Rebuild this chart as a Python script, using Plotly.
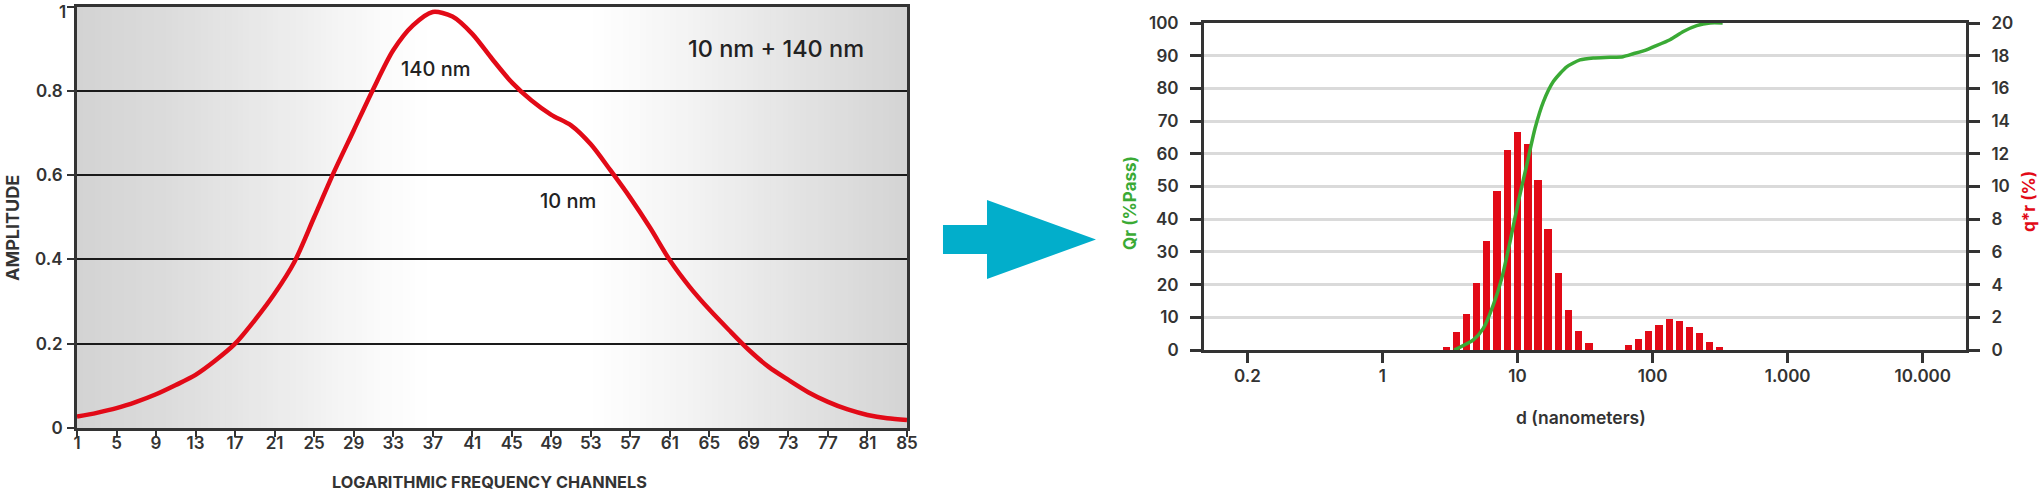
import numpy as np
import plotly.graph_objects as go

W, H = 2040, 493

# ---------------- data: left chart ----------------
channels = [1, 3, 5, 7, 9, 11, 13, 15, 17, 19, 21, 23, 25, 27, 29, 31, 33, 35, 37, 39, 41,
            43, 45, 47, 49, 51, 53, 55, 57, 59, 61, 63, 65, 67, 69, 71, 73, 75, 77, 79, 81, 83, 85]
amplitude = [0.027, 0.036, 0.047, 0.062, 0.080, 0.102, 0.126, 0.160, 0.200, 0.256, 0.319, 0.394,
             0.500, 0.607, 0.706, 0.805, 0.896, 0.955, 0.987, 0.976, 0.935,
             0.876, 0.820, 0.777, 0.743, 0.718, 0.673, 0.611, 0.546, 0.475, 0.398, 0.335,
             0.281, 0.232, 0.185, 0.145, 0.114, 0.085, 0.062, 0.044, 0.031, 0.023, 0.019]
channel_ticks = list(range(1, 86, 4))
amp_ticks = [0, 0.2, 0.4, 0.6, 0.8, 1]
amp_ticktext = ["0", "0.2", "0.4", "0.6", "0.8", "1"]

# ---------------- data: right chart ----------------
bar_d_nm = [2.97, 3.53, 4.18, 4.99, 5.91, 7.05, 8.41, 10.03, 11.93, 14.19, 16.83, 20.07, 23.78, 28.38, 33.85,
            66.6, 78.9, 93.6, 111.3, 132.7, 157.8, 188.3, 223.2, 264.8, 314.0]
bar_qr = [0.2, 1.08, 2.2, 4.08, 6.69, 9.72, 12.21, 13.35, 12.58, 10.4, 7.42, 4.69, 2.43, 1.14, 0.41,
          0.3, 0.65, 1.16, 1.53, 1.9, 1.8, 1.39, 1.02, 0.51, 0.2]
cum_d_nm = [3.4, 4.71, 5.58, 6.62, 7.64, 8.80, 10.14, 11.70, 13.48, 15.53, 18.41, 23.13, 29.0, 36.4,
            48.4, 60.4, 72.0, 90.0, 101.3, 134.6, 168.9, 212.3, 266.3, 330.0]
cum_pass = [0, 3.1, 6.6, 13.8, 21.9, 33.1, 45.4, 56.6, 67.8, 75.9, 82.1, 86.6, 88.7, 89.3,
            89.5, 89.7, 90.6, 91.8, 92.7, 94.9, 97.4, 99.2, 100, 100]
d_tickvals = [0.1, 1, 10, 100, 1000, 10000]
d_ticktext = ["0.2", "1", "10", "100", "1.000", "10.000"]
pass_ticks = list(range(0, 101, 10))
qr_ticks = list(range(0, 21, 2))

RED = "#e20a17"
GREEN = "#3aaa35"
DARK = "#333333"
FONT = "Inter"

def px(x):
    return x / W

def py(y):
    return 1 - y / H

fig = go.Figure()

# left curve
fig.add_trace(go.Scatter(x=channels, y=amplitude, mode="lines",
                         line=dict(color=RED, width=4.5, shape="spline", smoothing=0.8),
                         xaxis="x", yaxis="y", hoverinfo="skip", showlegend=False))

# bars on log axis: compute linear centre / width so bars are symmetric in log space
hw = 0.0271
logc = np.log10(np.array(bar_d_nm))
left = 10 ** (logc - hw)
right = 10 ** (logc + hw)
fig.add_trace(go.Bar(x=(left + right) / 2, y=bar_qr, width=right - left,
                     marker=dict(color=RED, line=dict(width=0)),
                     xaxis="x2", yaxis="y2", hoverinfo="skip", showlegend=False))

fig.add_trace(go.Scatter(x=cum_d_nm, y=cum_pass, mode="lines",
                         line=dict(color=GREEN, width=3.5, shape="spline", smoothing=0.6),
                         xaxis="x2", yaxis="y3", hoverinfo="skip", showlegend=False))

tickfont = dict(family=FONT, size=17, color=DARK, weight=600)

# the top amplitude label sits against the page edge: draw it as an anchored annotation
amp_axis_text = amp_ticktext[:-1] + [""]

fig.update_layout(
    width=W, height=H, autosize=False,
    margin=dict(l=0, r=0, t=0, b=0, autoexpand=False),
    paper_bgcolor="white", plot_bgcolor="rgba(0,0,0,0)",
    showlegend=False,
    bargap=0,
    xaxis=dict(domain=[px(77), px(907)], range=[1, 85], tickvals=channel_ticks,
               ticks="outside", ticklen=6, tickwidth=2, tickcolor=DARK,
               showline=True, linewidth=3, linecolor=DARK, mirror=True,
               showgrid=False, zeroline=False, tickfont=tickfont, ticklabelstandoff=-8,
               ticklabeloverflow="allow",
               anchor="y", fixedrange=True, automargin=False),
    yaxis=dict(domain=[py(428), py(6.5)], range=[0, 1], tickvals=amp_ticks, ticktext=amp_axis_text,
               ticks="outside", ticklen=7, tickwidth=2, tickcolor=DARK,
               showline=True, linewidth=3, linecolor=DARK, mirror=True,
               showgrid=True, gridcolor="#1a1a1a", gridwidth=1.5, zeroline=False,
               tickfont=tickfont, ticklabelstandoff=1, ticklabeloverflow="allow",
               anchor="x", fixedrange=True, automargin=False),
    xaxis2=dict(type="log", domain=[px(1204), px(1966)], range=[-1.321, 4.32],
                tickvals=d_tickvals, ticktext=d_ticktext,
                ticks="outside", ticklen=10, tickwidth=3, tickcolor=DARK,
                showline=True, linewidth=3, linecolor=DARK, mirror=True,
                showgrid=False, zeroline=False, tickfont=tickfont, ticklabelstandoff=-1,
                ticklabeloverflow="allow",
                anchor="y2", fixedrange=True, automargin=False),
    yaxis2=dict(domain=[py(350), py(23)], range=[0, 20], tickvals=qr_ticks, side="right",
                ticks="outside", ticklen=11, tickwidth=3, tickcolor=DARK,
                showline=True, linewidth=3, linecolor=DARK,
                showgrid=True, gridcolor="#dadada", gridwidth=3, zeroline=False,
                tickfont=tickfont, ticklabelstandoff=8, ticklabeloverflow="allow",
                anchor="x2", fixedrange=True, automargin=False),
    yaxis3=dict(overlaying="y2", range=[0, 100], tickvals=pass_ticks, side="left",
                ticks="outside", ticklen=11, tickwidth=3, tickcolor=DARK,
                showline=True, linewidth=3, linecolor=DARK,
                showgrid=False, zeroline=False,
                tickfont=tickfont, ticklabelstandoff=8, ticklabeloverflow="allow",
                anchor="x2", fixedrange=True, automargin=False),
)

# gradient background of left chart (thin slices under the grid)
stops_f = [0.0, 0.1, 0.25, 0.36, 0.43, 0.62, 0.72, 0.86, 1.0]
stops_v = [211, 219, 236, 250, 255, 255, 245, 228, 212]
N = 140
shapes = []
for i in range(N):
    f = (i + 0.5) / N
    v = int(round(np.interp(f, stops_f, stops_v)))
    shapes.append(dict(type="rect", xref="x domain", yref="y domain",
                       x0=i / N, x1=(i + 1) / N + 0.002, y0=0, y1=1,
                       fillcolor=f"rgb({v},{v},{v})", line=dict(width=0), layer="below"))

# cyan arrow
arrow_pts = [(943, 225), (987, 225), (987, 200), (1096, 239.5), (987, 279), (987, 254), (943, 254)]
path = "M " + " L ".join(f"{px(x):.5f},{py(y):.5f}" for x, y in arrow_pts) + " Z"
shapes.append(dict(type="path", xref="paper", yref="paper", path=path,
                   fillcolor="#02aecb", line=dict(width=0), layer="above"))
fig.update_layout(shapes=shapes)

def ann(text, x, y, size, color=DARK, weight=400, angle=0, xanchor="center", yanchor="middle"):
    fig.add_annotation(text=text, x=px(x), y=py(y), xref="paper", yref="paper",
                       showarrow=False, xanchor=xanchor, yanchor=yanchor, textangle=angle,
                       font=dict(family=FONT, size=size, color=color, weight=weight))

ann(amp_ticktext[-1], 68, 0, 17, DARK, 600, xanchor="right", yanchor="top")
ann("140 nm", 435, 69, 20, "#222222", 500)
ann("10 nm", 568, 201, 20, "#222222", 500)
ann("10 nm + 140 nm", 776, 49, 23.5, "#222222", 500)
ann("AMPLITUDE", 12, 228, 18, DARK, 700, -90)
ann("LOGARITHMIC FREQUENCY CHANNELS", 489, 482, 16.3, DARK, 700)
ann("Qr (%Pass)", 1130, 203, 17, GREEN, 700, -90)
ann("q*r (%)", 2029, 202, 17, RED, 700, -90)
ann("d (nanometers)", 1581, 417, 17.5, DARK, 600)

fig.write_html("out.html", config={"displayModeBar": False},
               post_script="document.body.style.margin='0';document.body.style.overflow='hidden';")
